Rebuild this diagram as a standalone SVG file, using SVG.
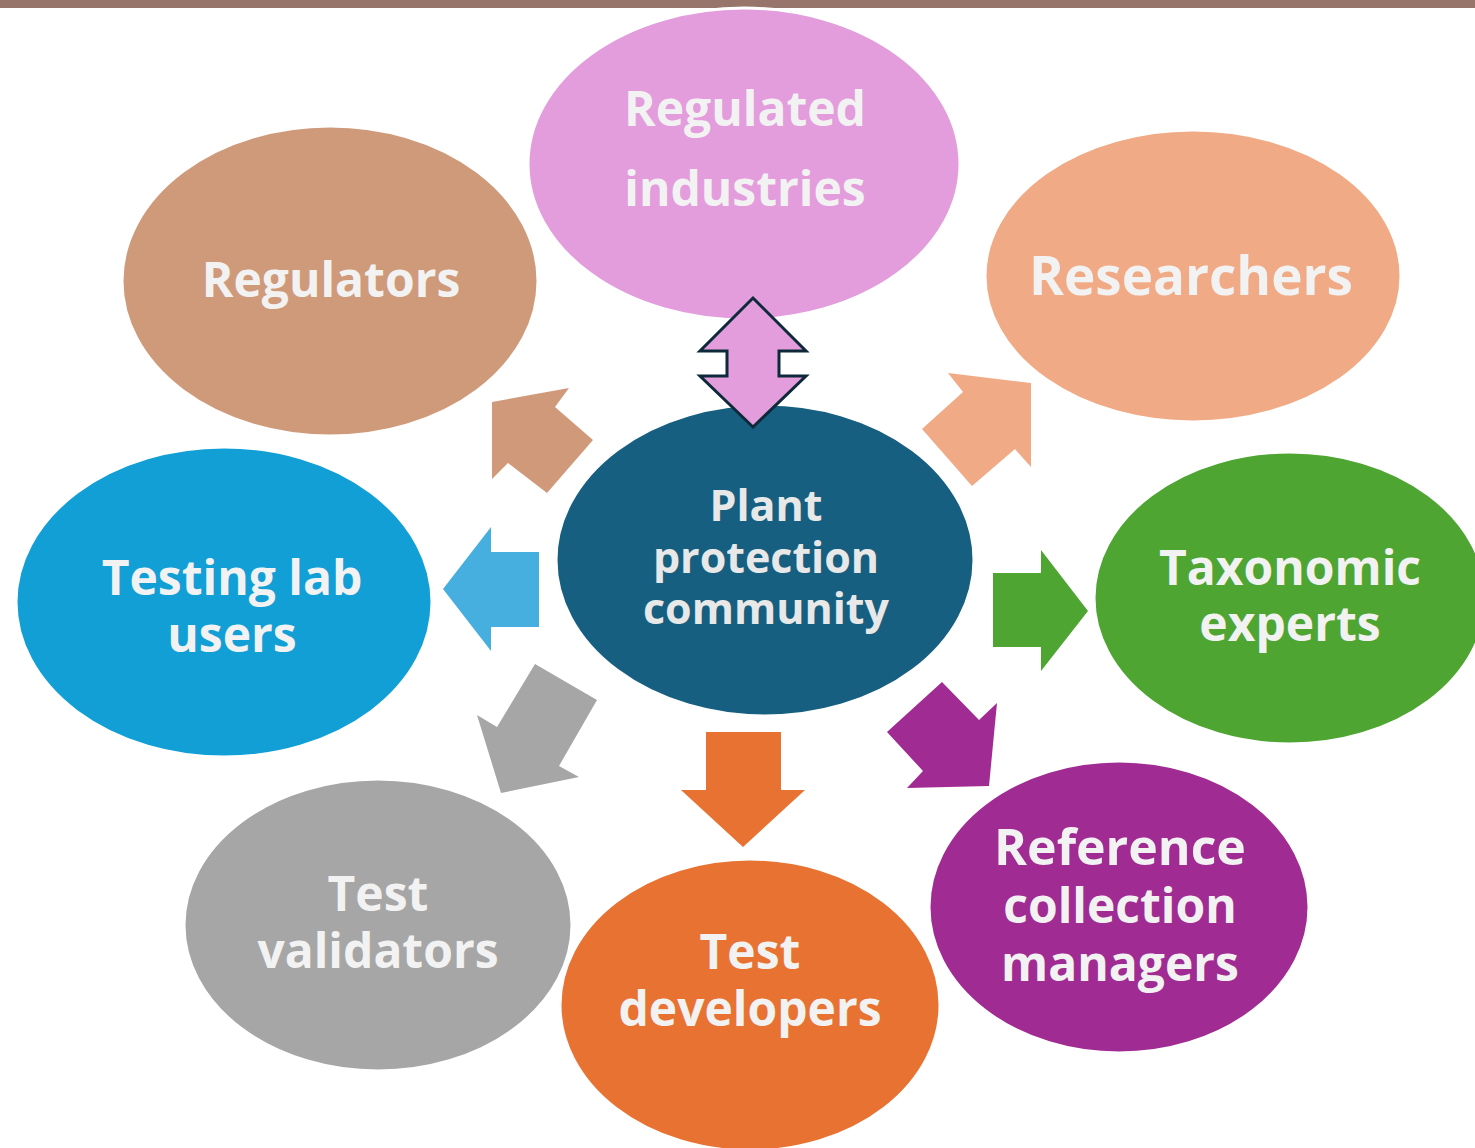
<svg xmlns="http://www.w3.org/2000/svg" width="1475" height="1148" viewBox="0 0 1475 1148">
<style>
.n{stroke:#ffffff;stroke-width:3}
.t{font-family:"Open Sans","Liberation Sans",sans-serif;font-weight:700;fill:#f2f2f2;text-anchor:middle;font-size:48px}
.c{font-size:43px;fill:#e8e8e8}
</style>
<rect x="0" y="0" width="1475" height="1148" fill="#ffffff"/>
<rect x="0" y="0" width="1475" height="8" fill="#98756a"/>
<g id="connectors">
<polygon points="492,402 569,388 555,407 593,440 547,493 508,463 492,479" fill="#d09a7a"/>
<polygon points="948,373 1031,383 1031,467 1015,449 972,486 922,429 963,392" fill="#f0aa85"/>
<polygon points="443,589 491,527 491,552 539,552 539,627 491,627 491,651" fill="#47afe0"/>
<polygon points="993,573 1041,573 1041,550 1088,611 1041,671 1041,647 993,647" fill="#4ea531"/>
<polygon points="535,664 597,700 559,766 579,777 501,793 477,715 497,727" fill="#a6a6a6"/>
<polygon points="706,732 781,732 781,790 805,790 743,847 681,790 706,790" fill="#e87232"/>
<polygon points="942,682 979,720 997,703 989,786 907,788 923,771 887,732" fill="#a02b92"/>
</g>
<g id="regulated-industries">
<ellipse class="n" cx="744" cy="164" rx="216" ry="156" fill="#e39ddc"/>
<text class="t" x="745" y="126">Regulated</text>
<text class="t" x="745" y="206">industries</text>
</g>
<g id="regulators">
<ellipse class="n" cx="330" cy="281" rx="208" ry="155" fill="#cf9a7a"/>
<text class="t" x="331" y="297">Regulators</text>
</g>
<g id="researchers">
<ellipse class="n" cx="1193" cy="276" rx="208" ry="146" fill="#f0aa85"/>
<text class="t" x="1191" y="295" style="font-size:53px">Researchers</text>
</g>
<g id="testing-lab-users">
<ellipse class="n" cx="224" cy="602" rx="208" ry="155" fill="#119fd6"/>
<text class="t" x="232" y="595">Testing lab</text>
<text class="t" x="232" y="652">users</text>
</g>
<g id="taxonomic-experts">
<ellipse class="n" cx="1290" cy="598" rx="196" ry="146" fill="#4ea531"/>
<text class="t" x="1290" y="585">Taxonomic</text>
<text class="t" x="1290" y="641">experts</text>
</g>
<g id="test-validators">
<ellipse class="n" cx="378" cy="925" rx="194" ry="146" fill="#a6a6a6"/>
<text class="t" x="378" y="911">Test</text>
<text class="t" x="378" y="968">validators</text>
</g>
<g id="test-developers">
<ellipse class="n" cx="750" cy="1005" rx="190" ry="146" fill="#e87232"/>
<text class="t" x="750" y="969">Test</text>
<text class="t" x="750" y="1026">developers</text>
</g>
<g id="reference-collection-managers">
<ellipse class="n" cx="1119" cy="907" rx="190" ry="146" fill="#a02b92"/>
<text class="t" x="1120" y="865" style="font-size:50px">Reference</text>
<text class="t" x="1120" y="923">collection</text>
<text class="t" x="1120" y="981">managers</text>
</g>
<g id="plant-protection-community">
<ellipse class="n" cx="765" cy="560" rx="209" ry="156" fill="#175f80"/>
<text class="t c" x="766" y="521">Plant</text>
<text class="t c" x="766" y="573">protection</text>
<text class="t c" x="766" y="624">community</text>
</g>
<g id="double-arrow">
<polygon points="753,298 806,351 779,351 779,376 806,376 753,427 700,376 727,376 727,351 700,351" fill="#e39ddc" stroke="#0e2a3a" stroke-width="3" stroke-linejoin="miter"/>
</g>
</svg>
